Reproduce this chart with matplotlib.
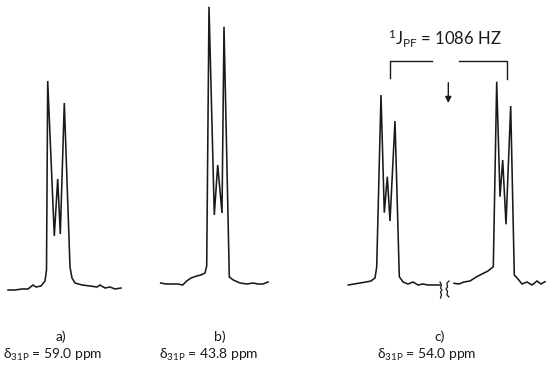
import matplotlib.pyplot as plt

plt.rcParams['font.family'] = ['Lato', 'DejaVu Sans']
plt.rcParams['mathtext.fontset'] = 'custom'
plt.rcParams['mathtext.rm'] = 'Lato'
plt.rcParams['mathtext.it'] = 'Lato:italic'

# traces (x, y in image pixels, y downwards)
spec_a_x = [8, 15, 22, 28, 33, 36, 41, 45, 46.5, 47.7, 54.3, 57.7, 60.3, 64.3,
            70, 72, 75, 82, 90, 97, 100, 105, 110, 115, 121]
spec_a_y = [290, 290, 289, 289, 285, 287, 286, 281, 270, 81, 236, 179, 234, 103,
            267, 278, 283, 285, 286, 287, 285, 288, 287, 289, 288]

spec_b_x = [160.7, 166, 172, 178, 182.7, 186.7, 191, 196.7, 201, 205, 206.7, 209,
            214.3, 217.7, 222, 224, 229.3, 233.3, 240, 247, 253, 258, 263, 268]
spec_b_y = [283, 284, 284, 284, 285, 281, 278, 276, 275, 273, 266, 6.7,
            215, 165, 213, 26.7, 277, 280, 283, 284, 283, 284, 284, 282]

spec_c1_x = [348.3, 354, 360, 366, 371, 375, 376.7, 381, 384.3, 387.3, 390, 395,
             399.3, 403, 408, 413, 418, 423, 428, 433, 440]
spec_c1_y = [285, 284, 283, 282, 281, 278, 267, 95, 212.7, 176.7, 221, 121,
             276.7, 282, 284, 282, 285, 284, 285, 285, 285]

spec_c2_x = [454, 459, 464, 470, 476.7, 482, 488, 493.3, 496.7, 500, 502.7, 506,
             510.7, 514.3, 518, 522, 527, 532, 537, 541, 545]
spec_c2_y = [283.3, 284, 282, 281, 276.7, 274, 271, 266.7, 81.7, 196.7, 160, 224.3,
             106, 275, 279, 284, 282, 285, 281, 284, 281.7]

labels = ['a)', 'b)', 'c)']
shifts = ['59.0', '43.8', '54.0']
label_x = [61, 220, 440]
shift_x = [53, 209, 427]
coupling = '1086'

fig = plt.figure(figsize=(5.5, 3.65), dpi=100)
ax = fig.add_axes([0, 0, 1, 1])
ax.set_xlim(0, 550)
ax.set_ylim(365, 0)
ax.axis('off')

ink = '#1a1a1a'
for xs, ys in [(spec_a_x, spec_a_y), (spec_b_x, spec_b_y),
               (spec_c1_x, spec_c1_y), (spec_c2_x, spec_c2_y)]:
    ax.plot(xs, ys, color=ink, lw=1.15, solid_joinstyle='miter')

# axis break marks
ax.plot([440, 441.5, 440.5, 442, 440.5, 441.5, 440.5],
        [282, 285, 288, 290, 292, 295, 298], color=ink, lw=0.9)
ax.plot([449, 447, 447.5, 446, 447.5, 447, 449],
        [281, 283, 287, 289, 291, 295, 297], color=ink, lw=0.9)

# coupling bracket
ax.plot([390, 390, 431.7], [78.3, 60.7, 60.7], color=ink, lw=1.0)
ax.plot([459.3, 506.7, 506.7], [60.7, 60.7, 79.3], color=ink, lw=1.0)
ax.annotate('', xy=(448.3, 103), xytext=(448.3, 82.7),
            arrowprops=dict(arrowstyle='-|>', color=ink, lw=1.0,
                            mutation_scale=9, shrinkA=0, shrinkB=0))
ax.text(445, 39, r'$^{1}$J$_{\mathrm{PF}}$ = ' + coupling + ' HZ', ha='center',
        va='center', fontsize=12, color=ink)

for lab, sh, x, xs in zip(labels, shifts, label_x, shift_x):
    ax.text(x, 337, lab, ha='center', va='center', fontsize=10, color=ink)
    ax.text(xs, 355, r'δ$_{\mathrm{31P}}$ = ' + sh + ' ppm', ha='center',
            va='center', fontsize=10, color=ink)

plt.savefig('out.png', dpi=100)
plt.close()
